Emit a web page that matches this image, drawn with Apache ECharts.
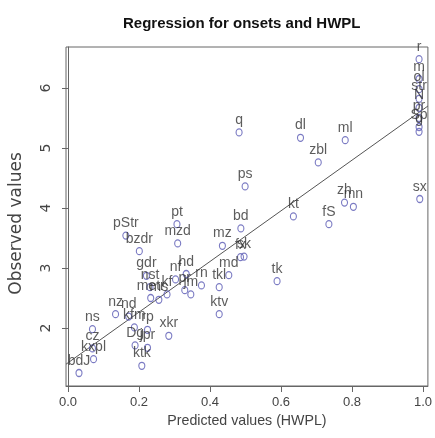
<!DOCTYPE html>
<html>
<head>
<meta charset="utf-8">
<script src="https://cdn.jsdelivr.net/npm/echarts@6/dist/echarts.min.js"></script>
<style>
  html, body { margin: 0; padding: 0; background: #fff; }
  #chart { width: 435px; height: 438px; }
</style>
</head>
<body>
<div id="chart"></div>
<script>
  var sites = ['pStr', 'bzdr', 'pt', 'mzd', 'gdr', 'nst', 'metr', 'ms', 'kf', 'nf',
    'hd', 'pr', 'jm', 'rn', 'tkl', 'ktv', 'md', 'mz', 'bd', 'fx',
    'sk', 'tk', 'kt', 'q', 'dl', 'ps', 'zbl', 'ml', 'zh', 'mn',
    'fS', 'sx', 'r', 'm', 'ol', 'str', 'N', 'pr', 'Sp', 'g',
    'nz', 'nd', 'kfm', 'rp', 'Dg', 'jpr', 'ktk', 'xkr', 'ns', 'cz',
    'kxpl', 'bdJ']
  var predicted = [0.163, 0.201, 0.307, 0.309, 0.221, 0.231, 0.233, 0.256, 0.279, 0.303,
    0.333, 0.329, 0.346, 0.376, 0.426, 0.426, 0.453, 0.435, 0.487, 0.486,
    0.496, 0.589, 0.635, 0.482, 0.655, 0.499, 0.705, 0.781, 0.779, 0.804,
    0.735, 0.991, 0.989, 0.989, 0.989, 0.989, 0.989, 0.989, 0.989, 0.989,
    0.134, 0.171, 0.187, 0.224, 0.189, 0.224, 0.208, 0.284, 0.069, 0.069,
    0.072, 0.031]
  var observed = [3.54, 3.28, 3.73, 3.41, 2.87, 2.68, 2.50, 2.47, 2.56, 2.81,
    2.90, 2.63, 2.56, 2.71, 2.68, 2.23, 2.88, 3.37, 3.66, 3.18,
    3.19, 2.78, 3.86, 5.26, 5.17, 4.36, 4.76, 5.13, 4.09, 4.02,
    3.73, 4.15, 6.48, 6.15, 5.98, 5.82, 5.67, 5.50, 5.35, 5.27,
    2.23, 2.19, 2.01, 1.97, 1.71, 1.67, 1.37, 1.87, 1.98, 1.66,
    1.48, 1.25]

  // regression line end points
  var fitX = [-0.0056, 1.0139]
  var fitY = [1.396, 5.699]

  var xTicks = [0, 0.2, 0.4, 0.6, 0.8, 1.0]
  var yTicks = [2, 3, 4, 5, 6]

  var points = sites.map(function (s, i) {
    return { name: s, value: [predicted[i], observed[i]] }
  })
  var fitLine = fitX.map(function (x, i) { return [x, fitY[i]] })

  var sans = 'Liberation Sans'
  // the original is stretched vertically, so the rotated y texts are longer
  var wide = 'DejaVu Sans'
  var ring = 'path://M1,0A1,1,0,1,1,-1,0A1,1,0,1,1,1,0Z'

  var chart = echarts.init(document.getElementById('chart'))

  chart.setOption({
    animation: false,
    backgroundColor: '#fff',
    title: {
      text: 'Regression for onsets and HWPL',
      left: 118,
      top: 11,
      textStyle: { fontSize: 15, fontWeight: 'bold', color: '#111', fontFamily: sans }
    },
    grid: {
      left: 66, right: 3, top: 47, bottom: 52,
      show: true, borderColor: '#666', borderWidth: 1
    },
    xAxis: {
      type: 'value',
      min: -0.0056,
      max: 1.0139,
      splitLine: { show: false },
      axisLine: { show: true, lineStyle: { color: '#666' } },
      axisTick: { show: true, length: 6, customValues: xTicks, lineStyle: { color: '#666' } },
      axisLabel: {
        margin: 10,
        customValues: xTicks,
        formatter: function (v) { return v.toFixed(1) },
        color: '#444', fontSize: 13, fontFamily: sans
      },
      name: 'Predicted values (HWPL)',
      nameLocation: 'middle',
      nameGap: 28,
      nameTextStyle: { color: '#444', fontSize: 14.2, fontFamily: sans }
    },
    yAxis: {
      type: 'value',
      min: 1.033,
      max: 6.683,
      splitLine: { show: false },
      axisLine: { show: true, lineStyle: { color: '#666' } },
      axisTick: { show: true, length: 6, customValues: yTicks, lineStyle: { color: '#666' } },
      axisLabel: {
        margin: 13,
        rotate: 90,
        customValues: yTicks,
        color: '#444', fontSize: 14, fontFamily: wide
      },
      name: 'Observed values',
      nameLocation: 'middle',
      nameGap: 41,
      nameTextStyle: { color: '#444', fontSize: 17, fontFamily: wide, padding: [0, 14, 0, 0] }
    },
    series: [{
      type: 'line',
      data: fitLine,
      symbol: 'none',
      lineStyle: { color: '#555', width: 1 },
      z: 1
    }, {
      type: 'scatter',
      data: points,
      symbol: ring,
      symbolSize: [6, 7],
      itemStyle: { color: 'rgba(0,0,0,0)', borderColor: '#5a5ab4', borderWidth: 1.2 },
      label: {
        show: true,
        position: 'top',
        distance: 1,
        formatter: '{b}',
        color: '#333',
        fontSize: 14,
        fontFamily: sans
      },
      z: 2
    }]
  })
</script>
</body>
</html>
